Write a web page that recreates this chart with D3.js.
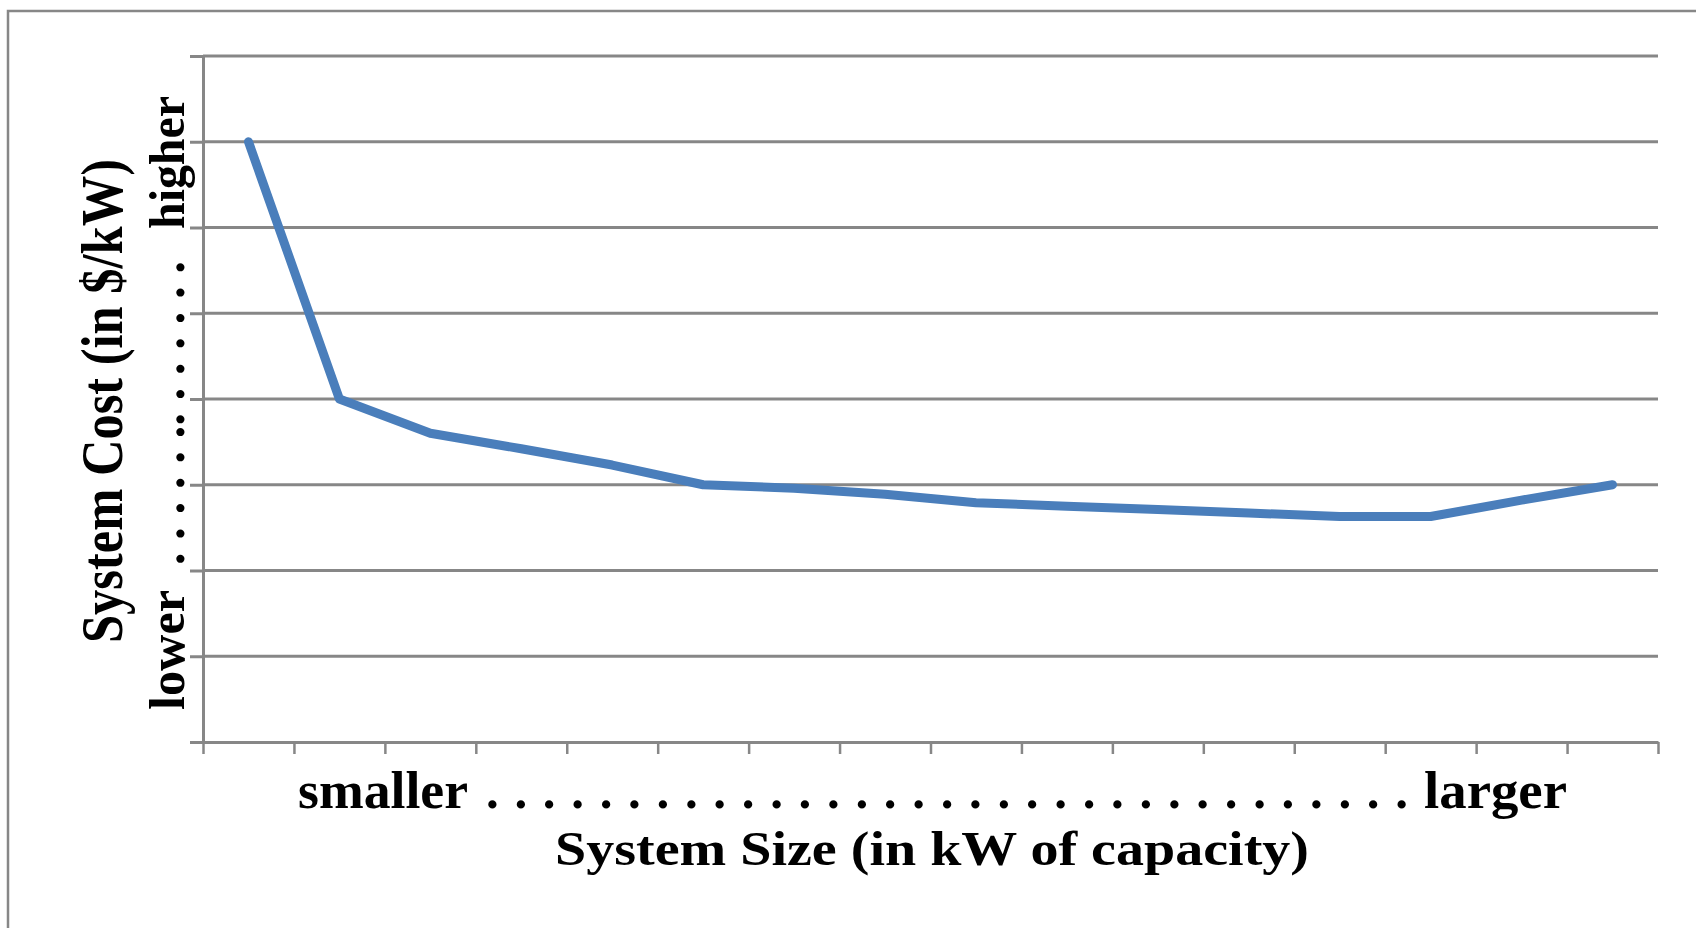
<!DOCTYPE html>
<html>
<head>
<meta charset="utf-8">
<script src="https://cdn.jsdelivr.net/npm/d3@7"></script>
<style>
  html, body { margin: 0; padding: 0; background: #fff; }
  svg { display: block; }
  text { font-family: "Liberation Serif", "Times New Roman", serif; font-weight: bold; fill: #000; }
</style>
</head>
<body>
<svg id="chart" width="1696" height="928"></svg>
<script>
// ---- data ----
const categories = ["1","2","3","4","5","6","7","8","9","10","11","12","13","14","15","16"];
const costValues = [7.0, 4.0, 3.6, 3.42, 3.23, 3.0, 2.96, 2.89, 2.79, 2.75, 2.71, 2.67, 2.63, 2.63, 2.82, 3.0];
const yTickValues = [0, 1, 2, 3, 4, 5, 6, 7, 8];
const xTitle = "System Size (in kW of capacity)";
const yTitle = "System Cost (in $/kW)";
const xLowLabel = "smaller";
const xHighLabel = "larger";
const yLowLabel = "lower";
const yHighLabel = "higher";

// ---- layout ----
const svg = d3.select("#chart");
const W = 1696, H = 928;
const plot = { left: 203, right: 1658, top: 56, bottom: 742 };
const gridColor = "#878787";

// outer frame
svg.append("path")
  .attr("d", `M8,${H} V11 H${W}`)
  .attr("fill", "none")
  .attr("stroke", gridColor)
  .attr("stroke-width", 2.5);

const x = d3.scaleBand().domain(categories).range([plot.left, plot.right]).padding(0);
const xBound = d3.scaleLinear().domain([0, categories.length]).range([plot.left, plot.right]);
const y = d3.scaleLinear().domain([0, 8]).range([plot.bottom, plot.top]);

// gridlines
svg.append("g")
  .selectAll("line")
  .data(yTickValues.filter(v => v > 0))
  .join("line")
  .attr("x1", plot.left).attr("x2", plot.right)
  .attr("y1", d => y(d)).attr("y2", d => y(d))
  .attr("stroke", gridColor)
  .attr("stroke-width", 3);

// y axis
const yAxis = svg.append("g")
  .attr("transform", `translate(${plot.left},0)`)
  .call(d3.axisLeft(y).tickValues(yTickValues).tickSize(13).tickSizeOuter(0).tickFormat(""));
yAxis.select(".domain").attr("stroke", gridColor).attr("stroke-width", 3);
yAxis.selectAll(".tick line").attr("stroke", gridColor).attr("stroke-width", 3);

// x axis (ticks on category boundaries)
const xAxis = svg.append("g")
  .attr("transform", `translate(0,${plot.bottom})`)
  .call(d3.axisBottom(xBound).tickValues(d3.range(categories.length + 1)).tickSize(12).tickSizeOuter(0).tickFormat(""));
xAxis.select(".domain").attr("stroke", gridColor).attr("stroke-width", 3);
xAxis.selectAll(".tick line").attr("stroke", gridColor).attr("stroke-width", 2.5);

// line
const line = d3.line()
  .x((d, i) => x(categories[i]) + x.bandwidth() / 2)
  .y(d => y(d));
svg.append("path")
  .datum(costValues)
  .attr("d", line)
  .attr("fill", "none")
  .attr("stroke", "#4a7ebb")
  .attr("stroke-width", 9)
  .attr("stroke-linecap", "round")
  .attr("stroke-linejoin", "round");

// x-side labels
svg.append("text")
  .attr("x", 298).attr("y", 808)
  .attr("font-size", 52)
  .attr("textLength", 170).attr("lengthAdjust", "spacingAndGlyphs")
  .text(xLowLabel);
svg.append("text")
  .attr("x", 486).attr("y", 808)
  .attr("font-size", 51)
  .attr("textLength", 922).attr("lengthAdjust", "spacing")
  .text(d3.range(33).map(() => ".").join(" "));
svg.append("text")
  .attr("x", 1424).attr("y", 808)
  .attr("font-size", 52)
  .attr("textLength", 143).attr("lengthAdjust", "spacingAndGlyphs")
  .text(xHighLabel);

// x title
svg.append("text")
  .attr("transform", "translate(932,865)")
  .attr("text-anchor", "middle")
  .attr("font-size", 49)
  .attr("textLength", 754).attr("lengthAdjust", "spacingAndGlyphs")
  .text(xTitle);

// y-side labels (rotated)
svg.append("text")
  .attr("transform", "translate(184,710) rotate(-90)")
  .attr("font-size", 50)
  .attr("textLength", 120).attr("lengthAdjust", "spacingAndGlyphs")
  .text(yLowLabel);
svg.append("text")
  .attr("transform", "translate(184,565) rotate(-90)")
  .attr("font-size", 50)
  .attr("textLength", 304).attr("lengthAdjust", "spacing")
  .text(". . . . . .. . . . . . .");
svg.append("text")
  .attr("transform", "translate(184,229) rotate(-90)")
  .attr("font-size", 50)
  .attr("textLength", 133).attr("lengthAdjust", "spacingAndGlyphs")
  .text(yHighLabel);

// y title
svg.append("text")
  .attr("transform", "translate(122,401) scale(1.2,1) rotate(-90)")
  .attr("text-anchor", "middle")
  .attr("font-size", 50)
  .attr("textLength", 484).attr("lengthAdjust", "spacingAndGlyphs")
  .text(yTitle);
</script>
</body>
</html>
